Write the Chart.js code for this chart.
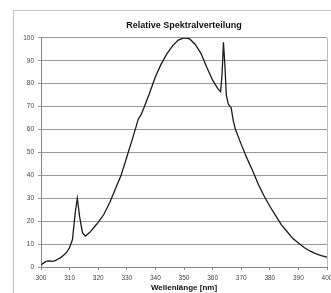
<!DOCTYPE html>
<html>
<head>
<meta charset="utf-8">
<script src="https://cdn.jsdelivr.net/npm/chart.js@4"></script>
<style>
    html, body { margin: 0; padding: 0; background: #fff; }
    #wrap { position: relative; width: 331px; height: 293px; overflow: hidden; }
    #rahmen {
        position: absolute; left: 13px; top: 10px; width: 400px; height: 400px;
        border-left: 1px solid #c4c4c4; border-top: 1px solid #c4c4c4;
    }
    #grafik { position: absolute; left: 0; top: 0; }
</style>
</head>
<body>
<div id="wrap">
    <div id="rahmen"></div>
    <canvas id="grafik" width="331" height="293"></canvas>
</div>
<script>
// Werte
const wellenlaenge = [300, 301, 302, 303, 304, 305, 306, 307, 308, 309, 310, 311, 312, 312.7, 313.5, 314.5,
    315.5, 317, 319, 320, 322, 324, 326, 328, 330, 332, 333.2, 334, 335, 336, 338, 340, 342, 344, 346,
    348, 350, 352, 354, 356, 358, 360, 361, 362, 362.8, 363.3, 363.8, 364.3, 364.8, 365.5, 366.5, 367.2,
    368, 370, 372, 374, 376, 378, 380, 382, 384, 386, 388, 390, 392, 394, 396, 398, 400];
const intensitaet = [1, 1.8, 2.6, 2.7, 2.5, 2.8, 3.5, 4.2, 5.2, 6.5, 8.5, 12, 24, 30, 22, 15,
    13.5, 15, 18, 19.5, 23, 28, 34, 40, 48, 56, 61, 64.5, 66.5, 69.5, 76, 83, 88.5, 93, 96.5,
    99, 100, 99.5, 97, 93, 87, 81.5, 79.5, 77.5, 76.5, 84, 98, 88, 75, 71, 69.5, 64,
    60, 53.5, 47.5, 42, 36, 31, 26.5, 22.5, 18.5, 15.5, 12.5, 10.5, 8.5, 7, 5.8, 5, 4.3];
const xTicks = [300, 310, 320, 330, 340, 350, 360, 370, 380, 390, 400];
const yTicks = [0, 10, 20, 30, 40, 50, 60, 70, 80, 90, 100];

const titel = "Relative Spektralverteilung";
const xTitel = "Wellenlänge [nm]";

// rechter Rand der Zeichenfläche
const rechterRand = {
    id: "rechterRand",
    afterDraw(chart) {
        const { ctx, chartArea: a } = chart;
        ctx.save();
        ctx.strokeStyle = "#bdbdbd";
        ctx.lineWidth = 1;
        ctx.beginPath();
        ctx.moveTo(Math.round(a.right) + 0.5, a.top);
        ctx.lineTo(Math.round(a.right) + 0.5, a.bottom);
        ctx.stroke();
        ctx.restore();
    },
};

const tickFont = { family: "Arial, 'Liberation Sans', sans-serif", size: 6.5 };

new Chart(document.getElementById("grafik"), {
    type: "line",
    data: {
        datasets: [{
            data: wellenlaenge.map((x, i) => ({ x, y: intensitaet[i] })),
            borderColor: "#1a1a1a",
            borderWidth: 1.3,
            pointRadius: 0,
            tension: 0,
            fill: false,
        }],
    },
    options: {
        responsive: false,
        animation: false,
        layout: { padding: { left: 0, right: 4, top: 0, bottom: 0 } },
        plugins: {
            legend: { display: false },
            tooltip: { enabled: false },
            title: {
                display: true,
                text: titel,
                fullSize: false,
                color: "#111",
                font: { family: "Arial, 'Liberation Sans', sans-serif", size: 9, weight: "bold" },
                padding: { top: 20, bottom: 7 },
            },
        },
        scales: {
            x: {
                type: "linear",
                min: 300, max: 400,
                afterBuildTicks: (s) => { s.ticks = xTicks.map((v) => ({ value: v })); },
                afterFit: (s) => { s.height = 26; s.paddingLeft = 0; s.paddingRight = 0; },
                grid: { drawOnChartArea: false, drawTicks: true, tickLength: 3, color: "#888" },
                border: { color: "#888", width: 1 },
                ticks: { color: "#444", font: tickFont, padding: 4, maxRotation: 0, autoSkip: false },
                title: {
                    display: true, text: xTitel, color: "#111",
                    font: { family: "Arial, 'Liberation Sans', sans-serif", size: 8, weight: "bold" },
                    padding: { top: 0, bottom: 0 },
                },
            },
            y: {
                min: 0, max: 100,
                afterBuildTicks: (s) => { s.ticks = yTicks.map((v) => ({ value: v })); },
                afterFit: (s) => { s.width = 41; s.paddingTop = 0; s.paddingBottom = 0; },
                grid: { color: "#999", lineWidth: 1, drawTicks: true, tickLength: 3 },
                border: { color: "#888", width: 1 },
                ticks: { color: "#444", font: tickFont, padding: 4, autoSkip: false },
            },
        },
    },
    plugins: [rechterRand],
});
</script>
</body>
</html>
